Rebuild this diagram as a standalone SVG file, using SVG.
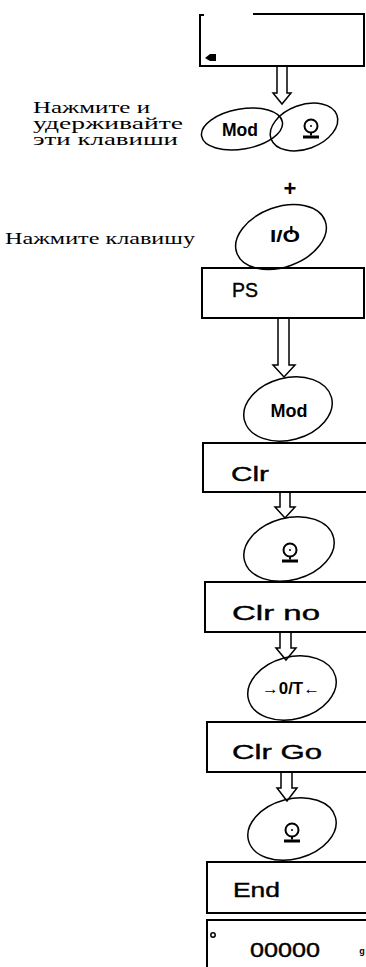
<svg xmlns="http://www.w3.org/2000/svg" width="366" height="967" viewBox="0 0 366 967">
<style>
.box{fill:none;stroke:#000;stroke-width:2}
.key{fill:none;stroke:#000;stroke-width:1.5}
.arr{fill:#fff;stroke:#000;stroke-width:1.5;stroke-linejoin:miter}
.ru{font-family:"Liberation Serif","Times New Roman",serif;font-size:16px;fill:#000}
.lbl{font-family:"Liberation Sans",Arial,sans-serif;font-weight:bold;fill:#000;text-anchor:middle}
.seg{font-family:"Liberation Sans",Arial,sans-serif;font-size:21px;fill:#000;stroke:#000;stroke-width:0.4}
</style>
<defs>
<g id="gear">
<circle cx="0" cy="-3" r="6.5" fill="none" stroke="#000" stroke-width="2"/>
<circle cx="0" cy="-3" r="1" fill="#000"/>
<rect x="-1" y="3.5" width="2" height="3" fill="#000"/>
<rect x="-8" y="6.5" width="16" height="3" fill="#000"/>
</g>
</defs>
<g id="connectors">
<path class="arr" d="M277,66 V93 H273 L282,104 L291,93 H287 V66"/>
<path class="arr" d="M278,318 V365 H273 L284,377 L295,365 H289 V318"/>
<path class="arr" d="M280,492 V507 H275 L285,518 L295,507 H290 V492"/>
<path class="arr" d="M280,632 V648 H276 L286,660 L296,648 H291 V632"/>
<path class="arr" d="M281,772 V788 H277 L287,801 L297,788 H292 V772"/>
</g>
<g id="display-start">
<path class="box" d="M204,15 H200 V66 H364 V14 H253"/>
<polygon points="205,58 210,54 216,54 216,61 210,61" fill="#000"/>
</g>
<g id="hold-keys">
<text class="ru" x="33" y="113" textLength="117" lengthAdjust="spacingAndGlyphs">Нажмите и</text>
<text class="ru" x="33" y="129" textLength="150" lengthAdjust="spacingAndGlyphs">удерживайте</text>
<text class="ru" x="33" y="145" textLength="145" lengthAdjust="spacingAndGlyphs">эти клавиши</text>
<ellipse class="key" cx="242" cy="129" rx="41" ry="20" transform="rotate(-10 242 129)"/>
<ellipse class="key" cx="304" cy="127" rx="35" ry="22" transform="rotate(-20 304 127)"/>
<text class="lbl" x="240" y="136" font-size="18" textLength="36" lengthAdjust="spacingAndGlyphs">Mod</text>
<use href="#gear" x="311" y="129"/>
</g>
<g id="plus">
<text class="lbl" x="290" y="196" font-size="22">+</text>
</g>
<g id="power-key">
<text class="ru" x="5" y="244" textLength="190" lengthAdjust="spacingAndGlyphs">Нажмите клавишу</text>
<ellipse class="key" cx="281" cy="237" rx="47" ry="30" transform="rotate(-20 281 237)"/>
<text class="lbl" x="285" y="242" font-size="17" textLength="30" lengthAdjust="spacingAndGlyphs">I/O</text>
<line x1="291.3" y1="226" x2="291.3" y2="234" stroke="#000" stroke-width="2.2"/>
</g>
<g id="display-ps">
<rect class="box" x="202" y="268" width="162" height="50"/>
<text class="seg" x="232" y="297" textLength="26" lengthAdjust="spacingAndGlyphs">PS</text>
</g>
<g id="mod-key">
<ellipse class="key" cx="288" cy="409" rx="45" ry="31" transform="rotate(-15 288 409)"/>
<text class="lbl" x="289" y="417" font-size="18" textLength="37" lengthAdjust="spacingAndGlyphs">Mod</text>
</g>
<g id="display-clr">
<path class="box" d="M368,443 H203 V492 H368"/>
<text class="seg" x="231" y="481" textLength="38" lengthAdjust="spacingAndGlyphs">Clr</text>
</g>
<g id="print-key-1">
<ellipse class="key" cx="289" cy="549" rx="46" ry="31" transform="rotate(-15 289 549)"/>
<use href="#gear" x="290" y="553"/>
</g>
<g id="display-clr-no">
<path class="box" d="M368,582 H205 V632 H368"/>
<text class="seg" x="232" y="620" textLength="88" lengthAdjust="spacingAndGlyphs">Clr no</text>
</g>
<g id="tare-key">
<ellipse class="key" cx="292" cy="688" rx="45" ry="31" transform="rotate(-15 292 688)"/>
<text class="lbl" x="291" y="694" font-size="16" textLength="58" lengthAdjust="spacingAndGlyphs">→0/T←</text>
</g>
<g id="display-clr-go">
<path class="box" d="M368,722 H207 V772 H368"/>
<text class="seg" x="232" y="759" textLength="90" lengthAdjust="spacingAndGlyphs">Clr Go</text>
</g>
<g id="print-key-2">
<ellipse class="key" cx="292" cy="829" rx="45" ry="30" transform="rotate(-15 292 829)"/>
<use href="#gear" x="292" y="833"/>
</g>
<g id="display-end">
<path class="box" d="M368,862 H207 V913 H368"/>
<text class="seg" x="233" y="897" textLength="47" lengthAdjust="spacingAndGlyphs">End</text>
</g>
<g id="display-zero">
<path class="box" d="M368,920 H207 V970"/>
<circle cx="213" cy="935" r="2.2" fill="none" stroke="#000" stroke-width="1.5"/>
<text class="seg" x="250" y="957" textLength="70" lengthAdjust="spacingAndGlyphs">00000</text>
<text class="lbl" x="362" y="954" font-size="9">g</text>
</g>
</svg>
